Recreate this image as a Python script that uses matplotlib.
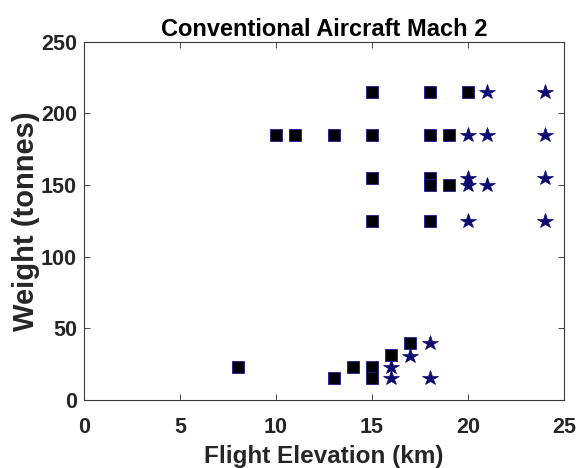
import matplotlib
matplotlib.use("Agg")
import matplotlib.pyplot as plt

plt.rcParams['font.family'] = ['Liberation Sans', 'DejaVu Sans']
plt.rcParams['font.weight'] = 'bold'

# Conventional aircraft (squares)
sq_elev = [15, 18, 20,
           10, 11, 13, 15, 18, 19,
           15, 18, 18, 19,
           15, 18,
           8, 13, 14, 15, 15, 16, 17]
sq_weight = [215, 215, 215,
             185, 185, 185, 185, 185, 185,
             155, 155, 150, 150,
             125, 125,
             23.3, 15.5, 23.3, 23.3, 15.5, 31.5, 39.5]

# Stars
st_elev = [21, 24,
           20, 21, 24,
           20, 20, 21, 24,
           20, 24,
           16, 16, 17, 18, 18]
st_weight = [215, 215,
             185, 185, 185,
             155, 150, 150, 155,
             125, 125,
             23.3, 15.5, 31, 39.5, 15.5]

xticks = [0, 5, 10, 15, 20, 25]
yticks = [0, 50, 100, 150, 200, 250]

fig = plt.figure(figsize=(5.78, 4.68), dpi=100)
ax = fig.add_axes([0.1453, 0.1453, 0.8305, 0.766])

ax.plot(sq_elev, sq_weight, linestyle='none', marker='s', markersize=8.8,
        markerfacecolor='black', markeredgecolor='#1a1aa0', markeredgewidth=0.6)
ax.plot(st_elev, st_weight, linestyle='none', marker='*', markersize=11.5,
        markerfacecolor='#0a0a6e', markeredgecolor='#0a0a6e', markeredgewidth=0.5)

ax.set_xlim(0, 25)
ax.set_ylim(0, 250)
ax.set_xticks(xticks)
ax.set_yticks(yticks)
ax.tick_params(direction='in', length=4, width=0.6, labelsize=15.5, colors='#262626',
               top=True, right=True)
ax.tick_params(axis='x', pad=12)
ax.tick_params(axis='y', pad=5)
for lab in ax.get_xticklabels() + ax.get_yticklabels():
    lab.set_fontweight('bold')
    lab.set_color('#262626')
for s in ax.spines.values():
    s.set_color('#3a3a3a')
    s.set_linewidth(0.8)

ax.set_xlabel('Flight Elevation (km)', fontsize=17.5, fontweight='bold', color='#262626', labelpad=5)
ax.set_ylabel('Weight (tonnes)', fontsize=21, fontweight='bold', color='#262626', labelpad=1)
ax.set_title('Conventional Aircraft Mach 2', fontsize=17, fontweight='bold', color='black', pad=4)

fig.savefig('out.png', dpi=100)
